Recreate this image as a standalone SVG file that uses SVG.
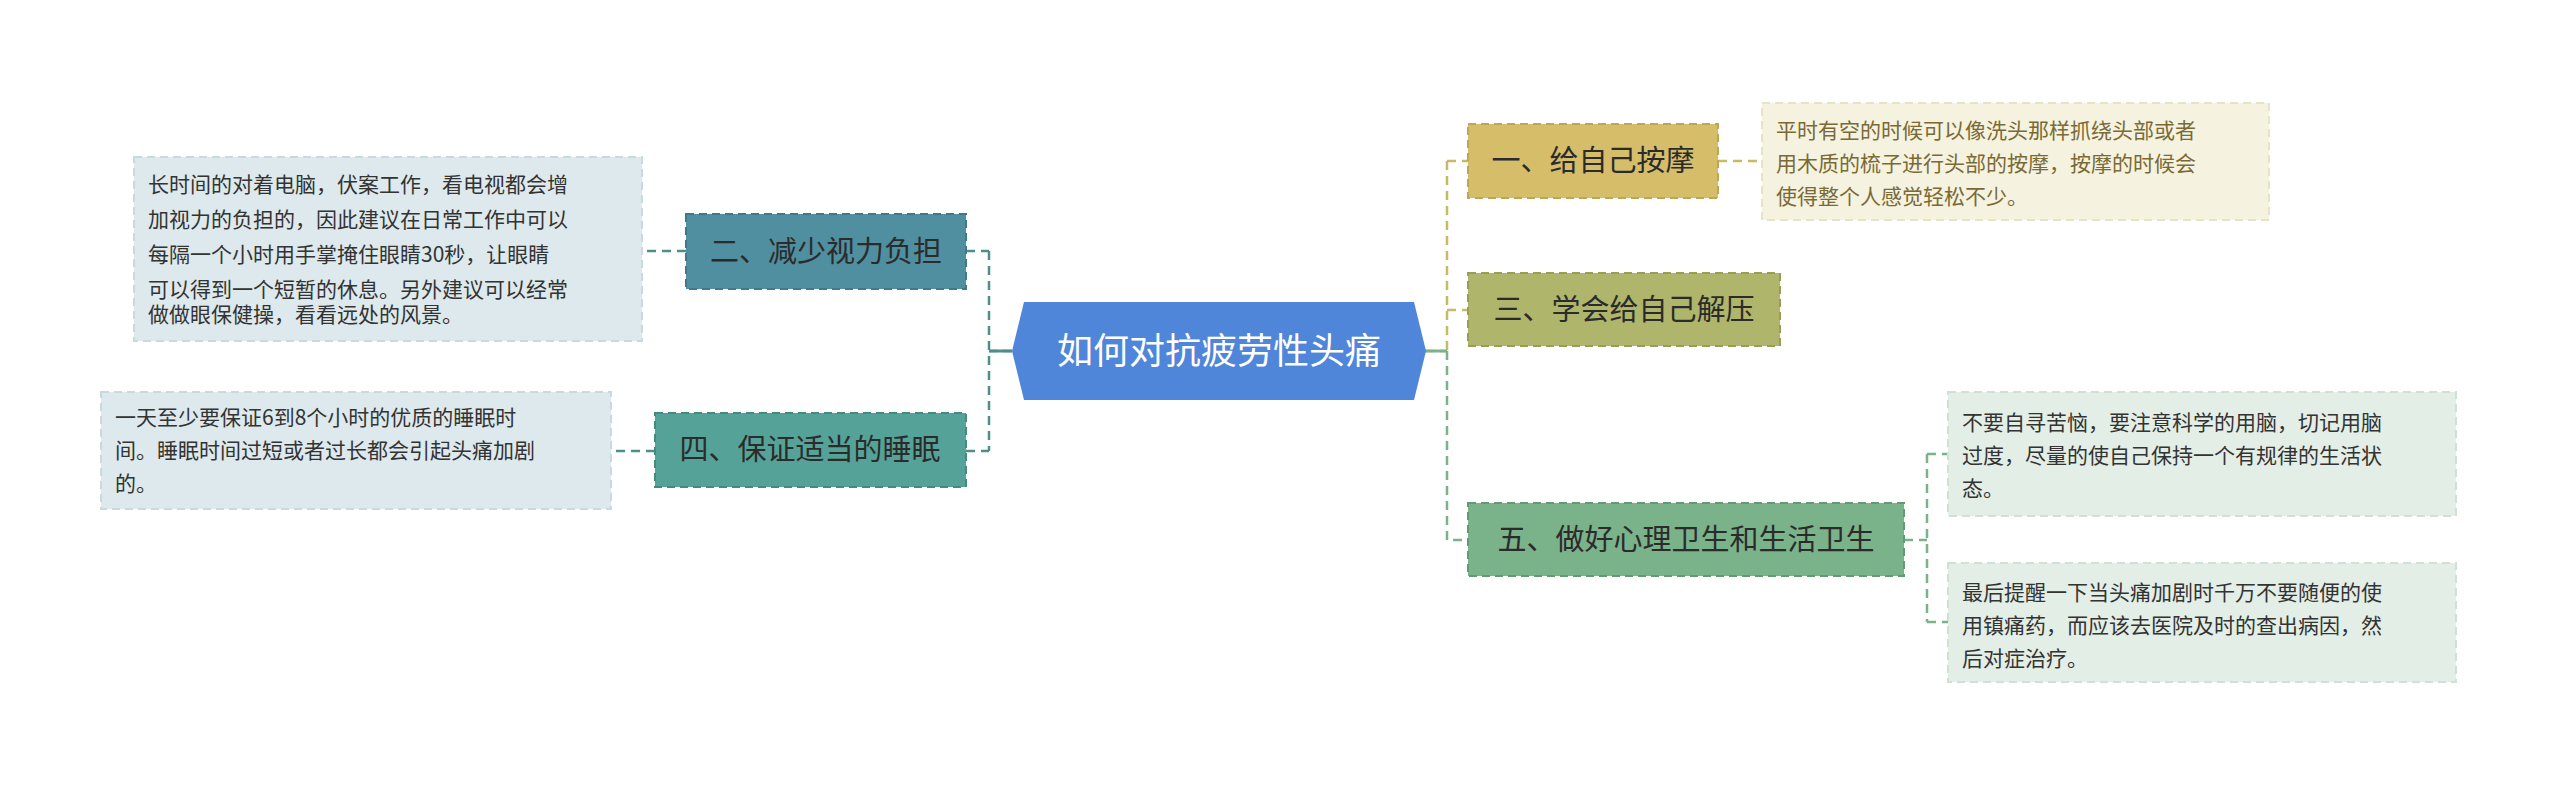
<svg xmlns="http://www.w3.org/2000/svg" width="2560" height="787" viewBox="0 0 2560 787">
<style>
text{font-family:"Noto Sans CJK SC","Noto Sans",sans-serif;}
.n{font-size:29px;fill:#2b2b2b;}
.d{font-size:21px;fill:#333;}
.c{fill:none;stroke-width:2.5;stroke-dasharray:9 6;}
.b{stroke-width:2;stroke-dasharray:8 5;}
</style>
<rect width="2560" height="787" fill="#fff"/>
<g id="connectors">
<path class="c" stroke="#4f8f8a" d="M1012 351H989M989 251V451M966 251H989M966 451H989"/>
<path class="c" stroke="#4f8f8a" d="M686 251H642M655 451H611"/>
<path class="c" stroke="#c9b966" d="M1425 351H1447M1447 161V351M1447 161H1468M1447 310H1468M1718 161H1762"/>
<path class="c" stroke="#7ab28a" d="M1447 351V540H1468M1904 540H1927M1927 454V622M1927 454H1948M1927 622H1948"/>
<path d="M1425 351H1447" stroke="#7ab28a" stroke-width="3"/>
<path d="M989 351H1012" stroke="#4f8f8a" stroke-width="3"/>
</g>
<g id="center">
<polygon points="1024,302 1414,302 1426,351 1414,400 1024,400 1012,351" fill="#4f86d9"/>
<text x="1219" y="364" font-size="36" fill="#fff" text-anchor="middle">如何对抗疲劳性头痛</text>
</g>
<g id="n2"><rect class="b" x="686" y="214" width="280" height="75" fill="#4f8fa0" stroke="#3f7a8a"/><text class="n" x="826" y="262" text-anchor="middle">二、减少视力负担</text></g>
<g id="n4"><rect class="b" x="655" y="413" width="311" height="74" fill="#55a398" stroke="#438a7f"/><text class="n" x="810" y="460" text-anchor="middle">四、保证适当的睡眠</text></g>
<g id="n1"><rect class="b" x="1468" y="124" width="250" height="74" fill="#d6bd6a" stroke="#bfa556"/><text class="n" x="1593" y="171" text-anchor="middle">一、给自己按摩</text></g>
<g id="n3"><rect class="b" x="1468" y="273" width="312" height="73" fill="#b0b56c" stroke="#989d58"/><text class="n" x="1624" y="320" text-anchor="middle">三、学会给自己解压</text></g>
<g id="n5"><rect class="b" x="1468" y="503" width="436" height="73" fill="#7ab28a" stroke="#639a73"/><text class="n" x="1686" y="550" text-anchor="middle">五、做好心理卫生和生活卫生</text></g>
<g id="t2"><rect class="b" x="134" y="157" width="508" height="184" fill="#dde9ec" stroke="#c9dadf"/>
<text class="d" x="148"><tspan x="148" y="192">长时间的对着电脑，伏案工作，看电视都会增</tspan><tspan x="148" y="227">加视力的负担的，因此建议在日常工作中可以</tspan><tspan x="148" y="262">每隔一个小时用手掌掩住眼睛30秒，让眼睛</tspan><tspan x="148" y="297">可以得到一个短暂的休息。另外建议可以经常</tspan><tspan x="148" y="322">做做眼保健操，看看远处的风景。</tspan></text></g>
<g id="t4"><rect class="b" x="101" y="392" width="510" height="117" fill="#dde9ec" stroke="#c9dadf"/>
<text class="d"><tspan x="115" y="425">一天至少要保证6到8个小时的优质的睡眠时</tspan><tspan x="115" y="458">间。睡眠时间过短或者过长都会引起头痛加剧</tspan><tspan x="115" y="491">的。</tspan></text></g>
<g id="t1"><rect class="b" x="1762" y="103" width="507" height="117" fill="#f5f2e0" stroke="#e8e2c6"/>
<text class="d" fill="#7a6a35" style="fill:#7a6a35"><tspan x="1776" y="138">平时有空的时候可以像洗头那样抓绕头部或者</tspan><tspan x="1776" y="171">用木质的梳子进行头部的按摩，按摩的时候会</tspan><tspan x="1776" y="204">使得整个人感觉轻松不少。</tspan></text></g>
<g id="t5a"><rect class="b" x="1948" y="392" width="508" height="124" fill="#e3eee6" stroke="#cfe0d4"/>
<text class="d"><tspan x="1962" y="430">不要自寻苦恼，要注意科学的用脑，切记用脑</tspan><tspan x="1962" y="463">过度，尽量的使自己保持一个有规律的生活状</tspan><tspan x="1962" y="496">态。</tspan></text></g>
<g id="t5b"><rect class="b" x="1948" y="563" width="508" height="119" fill="#e3eee6" stroke="#cfe0d4"/>
<text class="d"><tspan x="1962" y="600">最后提醒一下当头痛加剧时千万不要随便的使</tspan><tspan x="1962" y="633">用镇痛药，而应该去医院及时的查出病因，然</tspan><tspan x="1962" y="666">后对症治疗。</tspan></text></g>
</svg>
